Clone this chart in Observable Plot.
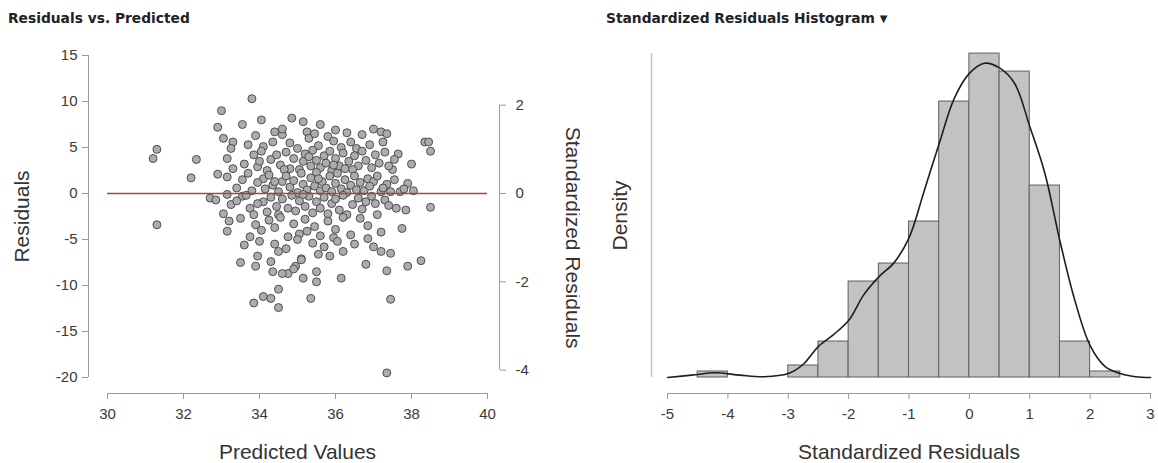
<!DOCTYPE html>
<html><head><meta charset="utf-8">
<script src="https://cdn.jsdelivr.net/npm/d3@7"></script>
<script src="https://cdn.jsdelivr.net/npm/@observablehq/plot@0.6"></script>
<style>
body{margin:0;background:#fff;font-family:"Liberation Sans",Arial,sans-serif;}
#wrap{position:relative;width:1158px;height:463px;overflow:hidden;background:#fff;}
.title{position:absolute;font-family:"DejaVu Sans",sans-serif;font-weight:bold;font-size:13.8px;color:#222;white-space:nowrap;}
#left{position:absolute;left:0;top:35px;}
#right{position:absolute;left:580px;top:35px;}
</style></head><body>
<div id="wrap">
<div class="title" style="left:8px;top:10px">Residuals vs. Predicted</div>
<div class="title" style="left:606px;top:10px">Standardized Residuals Histogram <span style="font-size:10px;vertical-align:1px">▼</span></div>
<div id="left"></div><div id="right"></div>
</div>
<script>
// ---------- data ----------
const predicted = [
 33.8,33.0,34.05,34.85,35.15,33.55,35.6,
 32.9,33.05,33.3,33.7,33.25,34.35,34.4,34.6,35.0,35.25,35.3,35.8,36.4,36.7,37.0,37.2,37.35,37.25,38.35,38.45,34.1,34.8,35.55,36.0,36.15,35.95,36.55,36.9,34.6,35.45,36.3,33.9,
 31.3,31.2,32.34,33.15,33.85,33.3,34.3,34.8,35.15,38.5,38.0,37.65,37.5,
 33.6,33.95,34.05,34.2,34.45,34.55,34.7,34.9,35.05,35.2,35.35,35.4,35.5,35.6,35.7,35.75,35.85,35.9,36.0,36.1,36.2,36.25,36.35,36.5,36.6,36.7,36.8,36.95,37.05,37.15,37.3,37.4,37.55,34.0,34.65,35.95,36.45,35.3,
 32.2,32.9,33.15,33.55,34.1,34.6,36.85,37.0,37.9,37.45,37.7,37.2,37.35,
 33.4,33.7,33.8,33.95,34.15,34.25,34.35,34.5,34.7,34.8,34.9,35.0,35.1,35.15,35.25,35.35,35.45,35.5,35.6,35.65,35.75,35.85,35.9,36.0,36.05,36.15,36.25,36.3,36.4,36.5,36.55,36.65,36.75,36.9,37.1,37.25,37.55,37.8,38.05,34.4,35.55,
 32.7,32.85,33.15,33.55,33.05,33.25,33.75,33.85,34.1,34.75,37.6,37.85,38.5,37.1,36.45,
 33.4,33.65,33.95,34.2,34.3,34.45,34.6,34.85,34.95,35.05,35.2,35.3,35.4,35.5,35.6,35.7,35.8,35.9,36.0,36.1,36.2,36.3,36.6,36.7,36.8,36.95,37.05,37.3,37.4,35.15,34.5,
 31.3,33.15,37.75,36.65,33.2,33.75,34.75,35.25,36.4,
 33.5,33.9,34.05,34.25,34.4,34.55,34.9,35.05,35.2,35.45,35.6,35.8,36.0,36.2,36.85,37.2,35.95,
 36.85,37.2,37.45,36.2,35.7,35.85,35.1,33.95,34.5,34.0,34.4,35.0,36.5,34.7,35.4,36.05,33.6,37.0,35.55,
 38.25,37.9,37.35,36.8,36.15,35.5,35.15,34.95,34.75,33.5,33.9,34.3,34.35,34.6,34.9,35.1,
 35.35,37.45,34.1,33.85,34.5,34.3,35.5,
 34.5,
 37.35
];
const residual = [
 10.3,9.0,8.0,8.2,7.8,7.5,7.5,
 7.2,6.0,5.6,5.3,4.9,5.6,6.7,6.4,4.9,6.7,6.0,6.2,5.6,6.4,7.0,6.7,6.5,5.6,5.6,5.6,5.1,5.5,5.2,6.9,5.0,5.7,4.9,5.3,7.0,6.5,6.6,6.3,
 4.8,3.8,3.7,3.8,4.2,2.7,3.7,2.7,3.5,4.6,3.2,4.3,2.6,
 3.2,2.9,4.6,2.5,4.2,3.1,4.5,3.8,2.6,4.3,3.0,4.7,3.6,2.8,4.1,3.3,4.6,2.5,3.8,3.0,4.4,2.7,3.5,4.1,3.0,4.6,3.6,2.8,4.2,3.3,4.5,3.0,3.7,3.5,2.6,3.1,2.6,4.0,
 1.7,2.1,1.8,1.5,1.6,1.3,1.6,1.3,1.1,0.2,0.2,0.2,1.0,
 0.6,2.2,0.3,1.2,0.5,2.0,0.9,0.2,1.9,0.7,1.4,0.1,2.2,1.0,0.4,1.7,0.8,2.3,0.3,1.3,0.6,1.9,0.2,1.1,2.2,0.5,1.5,0.1,0.9,1.9,0.4,1.2,0.3,0.8,1.9,0.6,1.5,0.5,0.3,1.3,1.6,
 -0.5,-0.7,-0.1,-0.3,-2.2,-1.2,-1.6,-2.3,-0.9,-1.6,-1.6,-1.8,-1.5,-2.3,-1.2,
 -0.8,-0.2,-1.1,-2.0,-0.4,-1.4,-0.6,-0.2,-1.9,-0.8,-1.4,-0.3,-2.1,-0.9,-1.6,-0.4,-2.2,-1.1,-0.6,-1.8,-0.2,-2.3,-0.5,-1.7,-0.9,-0.3,-1.1,-0.7,-1.3,-0.1,-2.3,
 -3.4,-4.1,-3.8,-2.7,-3.0,-4.7,-4.7,-4.1,-4.5,
 -2.7,-3.4,-4.0,-2.9,-3.7,-2.6,-3.3,-4.4,-2.8,-3.6,-4.6,-3.0,-3.9,-2.6,-3.5,-4.2,-4.8,
 -4.9,-6.3,-6.5,-6.3,-5.8,-6.8,-7.1,-6.8,-6.3,-5.2,-5.5,-5.0,-5.5,-6.0,-5.4,-5.2,-5.6,-5.8,-6.6,
 -7.3,-7.9,-8.4,-7.7,-9.2,-8.5,-9.2,-7.9,-8.7,-7.5,-7.9,-7.4,-8.5,-8.7,-8.2,-7.2,
 -11.4,-11.5,-11.2,-11.9,-10.4,-11.4,-9.6,
 -12.4,
 -19.5
];
const sigma = 4.8;                       // residual standard deviation
const xTicksLeft = [30,32,34,36,38,40];
const yTicksLeft = [15,10,5,0,-5,-10,-15,-20];
const stdTicks = [2,0,-2,-4];

const binStart = [-4.5,-4,-3.5,-3,-2.5,-2,-1.5,-1,-0.5,0,0.5,1,1.5,2];
const binCount = [1,0,0,2,6,16,19,26,46,54,51,32,6,1];
const binWidth = 0.5;
const kdeX = [-5,-4.6,-4.2,-3.8,-3.4,-3,-2.75,-2.5,-2.25,-2,-1.75,-1.5,-1.25,-1,-0.75,-0.5,-0.25,0,0.25,0.5,0.75,1,1.25,1.5,1.75,2,2.25,2.5,2.75,3];
const kdeD = [0,0.003,0.006,0.003,0.001,0.005,0.017,0.040,0.055,0.073,0.106,0.129,0.147,0.179,0.239,0.300,0.358,0.390,0.403,0.397,0.377,0.322,0.262,0.175,0.098,0.041,0.014,0.005,0.001,0];
const xTicksRight = [-5,-4,-3,-2,-1,0,1,2,3];

// ---------- derived tables ----------
const pts = predicted.map((p,i)=>({p, r: residual[i]}));
const nObs = d3.sum(binCount);
const bins = binStart.map((s,i)=>({x0:s, x1:s+binWidth, density: binCount[i]/(nObs*binWidth)})).filter(d=>d.density>0);
const kde = kdeX.map((x,i)=>({x, d:kdeD[i]}));

const axisStroke = "#9a9a9a";
const tickFill = "#3a3a3a";
const titleFill = "#333";
const font = "'Liberation Sans', Arial, sans-serif";
const fmt = d => String(d);

const left = Plot.plot({
  width: 580, height: 428,
  marginLeft: 107, marginRight: 93, marginTop: 20, marginBottom: 86,
  x: {domain: [30,40], axis: null},
  y: {domain: [-20,15], axis: null},
  style: {fontFamily: font, fontSize: "15px", background: "white", overflow: "visible"},
  marks: [
    Plot.dot(pts, {x: "p", y: "r", r: 4, fill: "#acacac", stroke: "#4f4f4f", strokeWidth: 1}),
    Plot.ruleY([0], {x1: 30, x2: 40, stroke: "#a8433f", strokeWidth: 1.3}),
    // bottom axis
    Plot.ruleY([-20], {x1: 30, x2: 40, dy: 16, stroke: axisStroke}),
    Plot.axisX(xTicksLeft, {anchor: "bottom", dy: 16, tickSize: 6, tickPadding: 9, stroke: axisStroke, fill: tickFill, fontSize: 15, label: null, tickFormat: fmt}),
    // left axis
    Plot.ruleX([30], {y1: -20, y2: 15, dx: -19, stroke: axisStroke}),
    Plot.axisY(yTicksLeft, {anchor: "left", dx: -19, tickSize: 6, tickPadding: 5, stroke: axisStroke, fill: tickFill, fontSize: 15, label: null, tickFormat: fmt}),
    // right (standardized) axis
    Plot.ruleX([40], {y1: stdTicks[0]*sigma, y2: stdTicks[stdTicks.length-1]*sigma, dx: 12, stroke: axisStroke}),
    Plot.axisY(stdTicks.map(v=>v*sigma), {anchor: "right", dx: 12, tickSize: 6, tickPadding: 10, stroke: axisStroke, fill: tickFill, fontSize: 15, label: null, tickFormat: d => String(Math.round(d/sigma))}),
    // titles
    Plot.text(["Predicted Values"], {frameAnchor: "bottom", dy: 75, lineAnchor: "middle", textAnchor: "middle", fontSize: 21, fill: titleFill}),
    Plot.text(["Residuals"], {frameAnchor: "left", dx: -85, rotate: -90, textAnchor: "middle", lineAnchor: "middle", fontSize: 21, fill: titleFill}),
    Plot.text(["Standardized Residuals"], {x: () => 40, y: () => -sigma, dx: 85, rotate: 90, textAnchor: "middle", lineAnchor: "middle", fontSize: 21, fill: titleFill})
  ]
});
document.getElementById("left").appendChild(left);

const right = Plot.plot({
  width: 578, height: 428,
  marginLeft: 87, marginRight: 8, marginTop: 18, marginBottom: 86,
  x: {domain: [-5,3], axis: null},
  y: {domain: [0, 0.4155], axis: null},
  style: {fontFamily: font, fontSize: "15px", background: "white", overflow: "visible"},
  marks: [
    Plot.rectY(bins, {x1: "x0", x2: "x1", y: "density", fill: "#c2c2c2", stroke: "#5f5f5f", strokeWidth: 1}),
    Plot.line(kde, {x: "x", y: "d", curve: "catmull-rom", stroke: "#1e1e1e", strokeWidth: 1.6}),
    Plot.ruleY([0], {x1: -5, x2: 3, dy: 16, stroke: axisStroke}),
    Plot.axisX(xTicksRight, {anchor: "bottom", dy: 16, tickSize: 6, tickPadding: 9, stroke: axisStroke, fill: tickFill, fontSize: 15, label: null, tickFormat: fmt}),
    Plot.ruleX([-5], {y1: 0, y2: 0.4155, dx: -16, stroke: "#c4c4c4", strokeWidth: 1.5}),
    Plot.text(["Standardized Residuals"], {frameAnchor: "bottom", dy: 75, lineAnchor: "middle", textAnchor: "middle", fontSize: 21, fill: titleFill}),
    Plot.text(["Density"], {frameAnchor: "left", dx: -47, rotate: -90, textAnchor: "middle", lineAnchor: "middle", fontSize: 21, fill: titleFill})
  ]
});
document.getElementById("right").appendChild(right);
</script>
</body></html>
